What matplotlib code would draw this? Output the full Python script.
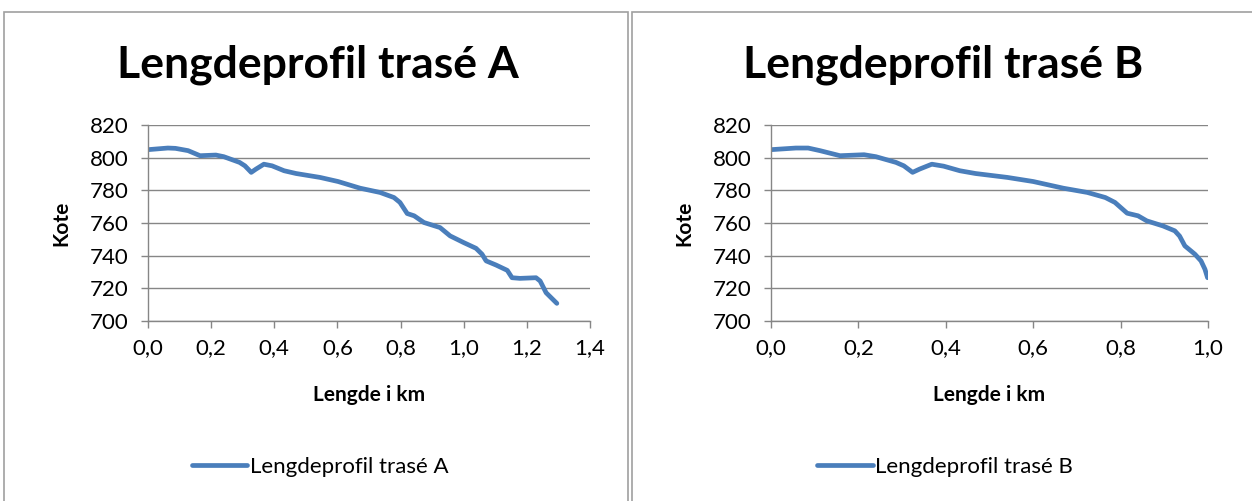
import numpy as np
import matplotlib.pyplot as plt
from matplotlib.patches import Rectangle

plt.rcParams['font.family'] = ['Lato', 'DejaVu Sans']

# elevation profile, route A (km, m)
km_a = [0.0, 0.063, 0.087, 0.127, 0.165, 0.215, 0.24, 0.29, 0.307, 0.327, 0.342,
        0.367, 0.393, 0.431, 0.469, 0.545, 0.602, 0.672, 0.735, 0.779, 0.798,
        0.821, 0.843, 0.874, 0.925, 0.957, 1.0, 1.039, 1.058, 1.071, 1.102,
        1.138, 1.153, 1.178, 1.229, 1.242, 1.261, 1.295]
kote_a = [804.9, 805.9, 805.7, 804.3, 801.2, 801.6, 800.6, 797.1, 795.0, 791.0, 793.0,
          796.0, 795.0, 792.0, 790.3, 787.9, 785.4, 781.3, 778.7, 775.6, 772.6,
          765.8, 764.4, 760.3, 757.2, 752.1, 748.0, 744.5, 740.9, 736.8, 734.3,
          731.0, 726.5, 726.1, 726.5, 724.5, 717.3, 710.8]

# elevation profile, route B
km_b = [0.0, 0.057, 0.085, 0.112, 0.158, 0.213, 0.24, 0.286, 0.304, 0.324, 0.34,
        0.368, 0.395, 0.432, 0.468, 0.541, 0.6, 0.669, 0.724, 0.765, 0.787,
        0.815, 0.84, 0.86, 0.897, 0.924, 0.935, 0.947, 0.97, 0.984, 0.993, 0.999]
kote_b = [804.9, 805.9, 805.9, 804.3, 801.2, 801.8, 800.6, 797.1, 795.0, 791.0, 793.0,
          796.0, 794.8, 792.0, 790.3, 787.9, 785.4, 781.3, 778.7, 775.6, 772.6,
          766.0, 764.4, 761.3, 758.2, 755.2, 752.0, 746.0, 740.9, 736.8, 731.7, 726.5]

yticks = [700, 720, 740, 760, 780, 800, 820]
xticks_a = [0.0, 0.2, 0.4, 0.6, 0.8, 1.0, 1.2, 1.4]
xticks_b = [0.0, 0.2, 0.4, 0.6, 0.8, 1.0]

blue = '#4a7ebb'
grid = '#868686'

fig = plt.figure(figsize=(12.52, 5.01), dpi=100)

# chart frames
W, H = 1252, 501
for x0, x1 in [(4, 628), (632, 1260)]:
    fig.patches.append(Rectangle((x0 / W, -0.1), (x1 - x0) / W, 1.1 - 12 / H,
                                 transform=fig.transFigure, fill=False,
                                 edgecolor='#a0a0a0', linewidth=1.2))


def profile(rect, km, kote, xticks, title, name, cx, leg_x):
    ax = fig.add_axes(rect)
    ax.plot(km, kote, color=blue, linewidth=3.4, solid_joinstyle='round',
            solid_capstyle='round', label=name)
    ax.set_xlim(xticks[0], xticks[-1])
    ax.set_ylim(700, 820)
    ax.set_yticks(yticks)
    ax.set_xticks(xticks)
    ax.set_xticklabels([f'{v:.1f}'.replace('.', ',') for v in xticks])
    ax.yaxis.grid(True, color=grid, linewidth=1.0)
    ax.set_axisbelow(True)
    for s in ['top', 'right']:
        ax.spines[s].set_visible(False)
    for s in ['left', 'bottom']:
        ax.spines[s].set_color(grid)
        ax.spines[s].set_linewidth(1.0)
    ax.tick_params(axis='both', direction='out', length=5, width=1.0, color=grid,
                   labelsize=16, labelcolor='black')
    ax.tick_params(axis='x', pad=7)
    ax.tick_params(axis='y', pad=9)
    ax.set_xlabel('Lengde i km', fontsize=15, fontweight='bold', labelpad=20)
    ax.set_ylabel('Kote', fontsize=15, fontweight='bold', labelpad=13)
    fig.text(cx / W, 1 - 65 / H, title, fontsize=32, fontweight='bold',
             ha='center', va='center')
    fig.legend(handles=ax.get_lines(), loc='center', frameon=False,
               bbox_to_anchor=(leg_x / W, 1 - 467 / H), fontsize=16,
               handlelength=2.5, handletextpad=0.1, borderaxespad=0)
    return ax


profile([148 / W, 1 - 321 / H, 442 / W, 196 / H], km_a, kote_a, xticks_a,
        'Lengdeprofil trasé A', 'Lengdeprofil trasé A', 318, 320)
profile([771 / W, 1 - 321 / H, 437 / W, 196 / H], km_b, kote_b, xticks_b,
        'Lengdeprofil trasé B', 'Lengdeprofil trasé B', 943, 945)

fig.savefig('out.png', dpi=100)
